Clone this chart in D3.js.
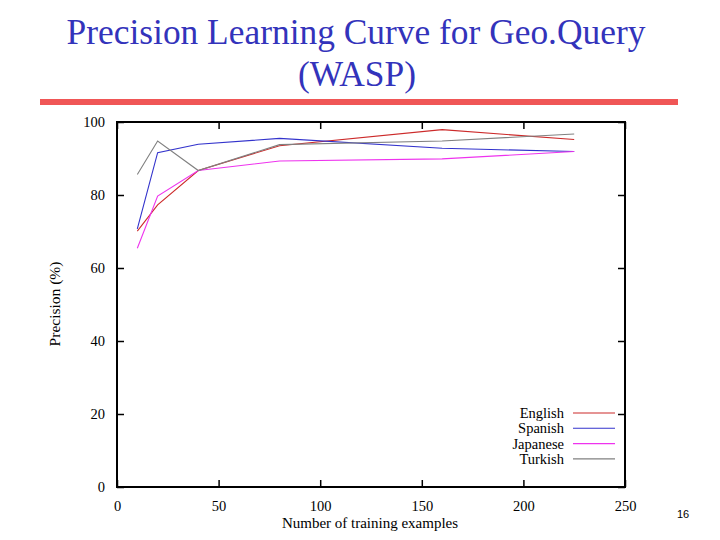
<!DOCTYPE html>
<html><head><meta charset="utf-8">
<script src="https://cdn.jsdelivr.net/npm/d3@7"></script>
<style>body{margin:0;background:#fff}svg{display:block}
.serif{font-family:"Liberation Serif","Times New Roman",Times,serif}</style>
</head><body>
<svg id="c" width="720" height="540"></svg>
<script>
const xValues = [10, 20, 40, 80, 160, 225];
const english  = [70.1, 77.3, 86.7, 93.5, 97.9, 95.2];
const spanish  = [70.7, 91.6, 93.9, 95.5, 92.8, 91.9];
const japanese = [65.4, 79.7, 86.7, 89.3, 89.9, 91.9];
const turkish  = [85.6, 94.8, 86.7, 93.8, 94.8, 96.7];
const seriesNames = ["English", "Spanish", "Japanese", "Turkish"];
const seriesColors = ["#cc2a2a", "#3333cc", "#ee33ee", "#808080"];
const xTicks = [0, 50, 100, 150, 200, 250];
const yTicks = [0, 20, 40, 60, 80, 100];

const svg = d3.select("#c");
const L = 117, R = 625, T = 122, B = 487;
const x = d3.scaleLinear().domain([0, 250]).range([L, R]);
const y = d3.scaleLinear().domain([0, 100]).range([B, T]);

svg.append("text").attr("class", "serif").attr("x", 356).attr("y", 44).attr("text-anchor", "middle")
  .attr("font-size", 35.4).attr("fill", "#3333bb")
  .text("Precision Learning Curve for Geo.Query");
svg.append("text").attr("class", "serif").attr("x", 357).attr("y", 86).attr("text-anchor", "middle")
  .attr("font-size", 35.4).attr("fill", "#3333bb")
  .text("(WASP)");
svg.append("rect").attr("x", 40).attr("y", 99).attr("width", 638).attr("height", 6).attr("fill", "#f05656");

const tl = 7;
const gB = svg.append("g").attr("transform", `translate(0,${B})`)
  .call(d3.axisBottom(x).tickValues(xTicks).tickSize(-tl).tickPadding(14));
const gT = svg.append("g").attr("transform", `translate(0,${T})`)
  .call(d3.axisTop(x).tickValues(xTicks).tickSize(-tl).tickFormat(""));
const gL = svg.append("g").attr("transform", `translate(${L},0)`)
  .call(d3.axisLeft(y).tickValues(yTicks).tickSize(-tl).tickPadding(12));
const gR = svg.append("g").attr("transform", `translate(${R},0)`)
  .call(d3.axisRight(y).tickValues(yTicks).tickSize(-tl).tickFormat(""));
[gB, gT, gL, gR].forEach(g => {
  g.attr("font-family", null).attr("class", "serif");
  g.select(".domain").remove();
  g.selectAll(".tick line").attr("stroke", "#000").attr("stroke-width", 1.5);
  g.selectAll("text").attr("font-size", 14.5).attr("fill", "#000");
});

svg.append("rect").attr("x", L).attr("y", T).attr("width", R - L).attr("height", B - T)
  .attr("fill", "none").attr("stroke", "#000").attr("stroke-width", 2);

svg.append("text").attr("class", "serif").attr("x", 370).attr("y", 528).attr("text-anchor", "middle")
  .attr("font-size", 15).attr("fill", "#000")
  .text("Number of training examples");
svg.append("text").attr("class", "serif").attr("transform", "translate(60,304) rotate(-90)").attr("text-anchor", "middle")
  .attr("font-size", 15.5).attr("fill", "#000")
  .text("Precision (%)");

const data = [english, spanish, japanese, turkish];
const line = d3.line().x((d, i) => x(xValues[i])).y(d => y(d));
data.forEach((vals, k) => {
  svg.append("path").datum(vals).attr("d", line).attr("fill", "none")
    .attr("stroke", seriesColors[k]).attr("stroke-width", 1.1);
});

seriesNames.forEach((n, k) => {
  const ly = 413 + k * 15.3;
  svg.append("text").attr("class", "serif").attr("x", 564).attr("y", ly).attr("dy", "0.35em").attr("text-anchor", "end")
    .attr("font-size", 14.5).attr("fill", "#000").text(n);
  svg.append("line").attr("x1", 573).attr("x2", 615).attr("y1", ly).attr("y2", ly)
    .attr("stroke", seriesColors[k]).attr("stroke-width", 1.1);
});

svg.append("text").attr("x", 683).attr("y", 518).attr("text-anchor", "middle")
  .attr("font-family", "Liberation Sans, Arial, sans-serif").attr("font-size", 11).attr("fill", "#000").text("16");
</script>
</body></html>
